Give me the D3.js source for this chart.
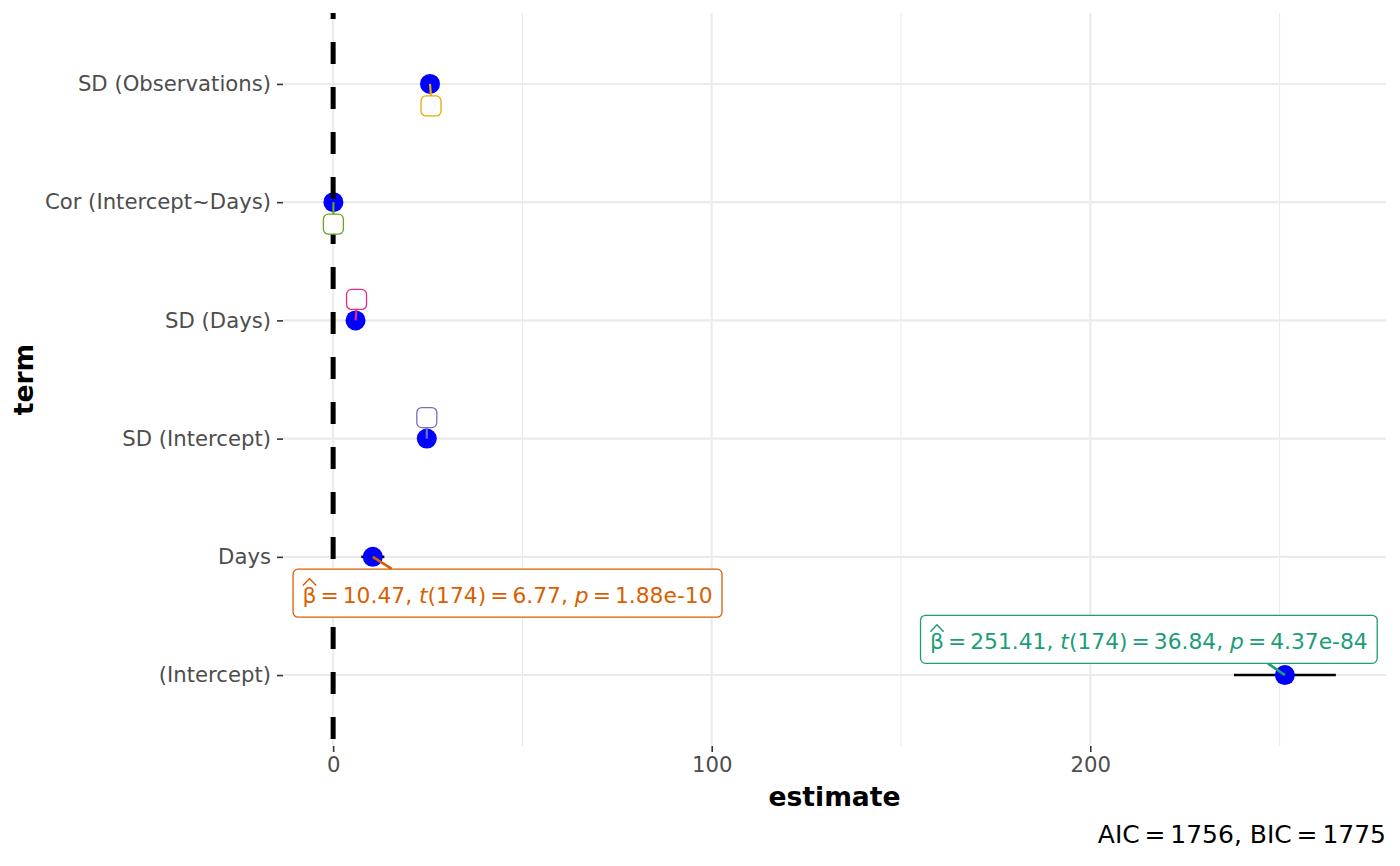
<!DOCTYPE html>
<html>
<head>
<meta charset="utf-8">
<script src="https://cdn.jsdelivr.net/npm/d3@7"></script>
<style>
  html, body { margin: 0; padding: 0; background: #ffffff; }
  svg { display: block; font-family: "DejaVu Sans", sans-serif; }
</style>
</head>
<body>
<svg id="chart" width="1400" height="866"></svg>
<script>
// ---------------- data ----------------
const terms = ["(Intercept)", "Days", "SD (Intercept)", "SD (Days)", "Cor (Intercept~Days)", "SD (Observations)"];
const estimates = [251.41, 10.47, 24.74, 5.92, 0.07, 25.59];
const confLow  = [237.95, 7.42, null, null, null, null];
const confHigh = [264.87, 13.52, null, null, null, null];
const labelColors = ["#1B9E77", "#D95F02", "#7570B3", "#E7298A", "#66A61E", "#E6AB02"];
const statBeta = ["251.41", "10.47", null, null, null, null];
const statT    = ["36.84", "6.77", null, null, null, null];
const statDf   = ["174", "174", null, null, null, null];
const statP    = ["4.37e-84", "1.88e-10", null, null, null, null];
const xTicks = [0, 100, 200];
const xMinorTicks = [50, 150, 250];
const fitNames = ["AIC", "BIC"];
const fitValues = [1756, 1775];
const xTitle = "estimate";
const yTitle = "term";

// ---------------- layout (pixels) ----------------
const W = 1400, H = 866;
const panel = { left: 283, right: 1386, top: 13, bottom: 746 };
// label placement relative to its point: box anchor and segment end
const labelLayout = [
  { anchor: "right-bottom", dx: 92.3, dy: -11.7, segX: -17, segY: -11.7 },
  { anchor: "left-top", dx: -79.7, dy: 12.3, segX: 19, segY: 12 },
  { anchor: "empty", dx: 0, dy: -21 },
  { anchor: "empty", dx: 1, dy: -21 },
  { anchor: "empty", dx: 0, dy: 22 },
  { anchor: "empty", dx: 1, dy: 22 }
];

const svg = d3.select("#chart");
const rows = terms.map((t, i) => ({
  term: t, est: estimates[i], lo: confLow[i], hi: confHigh[i],
  color: labelColors[i], beta: statBeta[i], t: statT[i], df: statDf[i], p: statP[i],
  lay: labelLayout[i]
}));

// scales
const dataMin = d3.min([0, d3.min(estimates), d3.min(confLow.filter(v => v != null))]);
const dataMax = d3.max([0, d3.max(estimates), d3.max(confHigh.filter(v => v != null))]);
const pad = (dataMax - dataMin) * 0.05;
const x = d3.scaleLinear().domain([dataMin - pad, dataMax + pad]).range([panel.left, panel.right]);
const y = d3.scalePoint().domain(terms.slice().reverse()).range([panel.top, panel.bottom]).padding(0.6);

// grid
const grid = svg.append("g");
grid.selectAll("line.minor").data(xMinorTicks).join("line")
  .attr("x1", d => x(d)).attr("x2", d => x(d))
  .attr("y1", panel.top).attr("y2", panel.bottom)
  .attr("stroke", "#EBEBEB").attr("stroke-width", 1.1);
grid.selectAll("line.majx").data(xTicks).join("line")
  .attr("x1", d => x(d)).attr("x2", d => x(d))
  .attr("y1", panel.top).attr("y2", panel.bottom)
  .attr("stroke", "#EBEBEB").attr("stroke-width", 2.1);
grid.selectAll("line.majy").data(terms).join("line")
  .attr("x1", panel.left).attr("x2", panel.right)
  .attr("y1", d => y(d)).attr("y2", d => y(d))
  .attr("stroke", "#EBEBEB").attr("stroke-width", 2.1);

// axes
const xAxis = d3.axisBottom(x).tickValues(xTicks).tickSize(6).tickPadding(5).tickFormat(d3.format("d"));
const gx = svg.append("g").attr("transform", `translate(0,${panel.bottom})`).call(xAxis);
gx.select(".domain").remove();
gx.selectAll(".tick line").attr("stroke", "#333333").attr("stroke-width", 1.6);
gx.selectAll(".tick text").attr("fill", "#4D4D4D").attr("font-size", 21.2)
  .attr("font-family", "DejaVu Sans");

const yAxis = d3.axisLeft(y).tickSize(6).tickPadding(6);
const gy = svg.append("g").attr("transform", `translate(${panel.left},0)`).call(yAxis);
gy.select(".domain").remove();
gy.selectAll(".tick line").attr("stroke", "#333333").attr("stroke-width", 1.6);
gy.selectAll(".tick text").attr("fill", "#4D4D4D").attr("font-size", 21.2)
  .attr("font-family", "DejaVu Sans");

// axis titles
svg.append("text").attr("x", (panel.left + panel.right) / 2).attr("y", 806)
  .attr("text-anchor", "middle").attr("font-weight", "bold").attr("font-size", 26.6)
  .attr("fill", "#000").text(xTitle);
svg.append("text").attr("transform", `translate(33,${(panel.top + panel.bottom) / 2}) rotate(-90)`)
  .attr("text-anchor", "middle").attr("font-weight", "bold").attr("font-size", 26.6)
  .attr("fill", "#000").text(yTitle);

// error bars
svg.append("g").selectAll("line").data(rows.filter(r => r.lo != null)).join("line")
  .attr("x1", d => x(d.lo)).attr("x2", d => x(d.hi))
  .attr("y1", d => y(d.term)).attr("y2", d => y(d.term))
  .attr("stroke", "#000").attr("stroke-width", 2.6);

// points
svg.append("g").selectAll("circle").data(rows).join("circle")
  .attr("cx", d => x(d.est)).attr("cy", d => y(d.term)).attr("r", 10)
  .attr("fill", "#0000FF");

// reference line at 0
svg.append("line")
  .attr("x1", x(0)).attr("x2", x(0)).attr("y1", panel.top).attr("y2", panel.bottom)
  .attr("stroke", "#000").attr("stroke-width", 5)
  .attr("stroke-dasharray", "22 23").attr("stroke-dashoffset", 16);

// labels
const lg = svg.append("g");
rows.forEach(r => {
  const px = x(r.est), py = y(r.term), L = r.lay;
  const g = lg.append("g");
  if (L.anchor === "empty") {
    const cx = px + L.dx, cy = py + L.dy;
    const s = 20;
    const ey = L.dy < 0 ? cy + s / 2 : cy - s / 2;
    g.append("line").attr("x1", px).attr("y1", py).attr("x2", cx).attr("y2", ey)
      .attr("stroke", r.color).attr("stroke-width", 2.2);
    g.append("rect").attr("x", cx - s / 2).attr("y", cy - s / 2).attr("width", s).attr("height", s)
      .attr("rx", 5).attr("fill", "#fff").attr("stroke", r.color).attr("stroke-width", 1.3);
    return;
  }
  // segment
  g.append("line").attr("x1", px).attr("y1", py).attr("x2", px + L.segX).attr("y2", py + L.segY)
    .attr("stroke", r.color).attr("stroke-width", 2.6);
  const rect = g.append("rect").attr("rx", 5).attr("fill", "#fff")
    .attr("stroke", r.color).attr("stroke-width", 1.3);
  const txt = g.append("text").attr("font-size", 21.8).attr("fill", r.color).attr("x", 0).attr("y", 0);
  const eqGap = 4.0;
  const pieces = [
    { s: "\u03B2" },
    { s: "=", dx: eqGap },
    { s: r.beta + ", ", dx: eqGap },
    { s: "t", it: true },
    { s: "(" + r.df + ")" },
    { s: "=", dx: eqGap },
    { s: r.t + ", ", dx: eqGap },
    { s: "p", it: true },
    { s: "=", dx: eqGap },
    { s: r.p, dx: eqGap }
  ];
  pieces.forEach(pc => {
    const ts = txt.append("tspan").text(pc.s);
    if (pc.it) ts.attr("font-style", "italic");
    if (pc.dx) ts.attr("dx", pc.dx);
  });
  const bb = txt.node().getBBox();
  const tw = bb.width;
  const padX = 9.5, boxH = 48, baseOff = 33.4;
  const bw = tw + 2 * padX;
  let left, top;
  if (L.anchor === "left-top") { left = px + L.dx; top = py + L.dy; }
  else { left = px + L.dx - bw; top = py + L.dy - boxH; }
  rect.attr("x", left).attr("y", top).attr("width", bw).attr("height", boxH);
  txt.attr("x", left + padX - bb.x).attr("y", top + baseOff);
  // wide hat over beta
  const ext = txt.node().getExtentOfChar(0);
  const hx0 = ext.x + 0.3, hx1 = ext.x + ext.width - 0.3, htop = top + baseOff - 17;
  g.append("path")
    .attr("d", `M${hx0},${htop} L${(hx0 + hx1) / 2},${htop - 7} L${hx1},${htop}`)
    .attr("fill", "none").attr("stroke", r.color).attr("stroke-width", 1.5);
});

// caption
const cap = svg.append("text").attr("x", panel.right).attr("y", 843)
  .attr("text-anchor", "end").attr("font-size", 25).attr("fill", "#000");
fitNames.forEach((n, i) => {
  cap.append("tspan").text(n);
  cap.append("tspan").attr("dx", 4.8).text("=");
  cap.append("tspan").attr("dx", 4.8).text(fitValues[i] + (i < fitNames.length - 1 ? ", " : ""));
});
</script>
</body>
</html>
